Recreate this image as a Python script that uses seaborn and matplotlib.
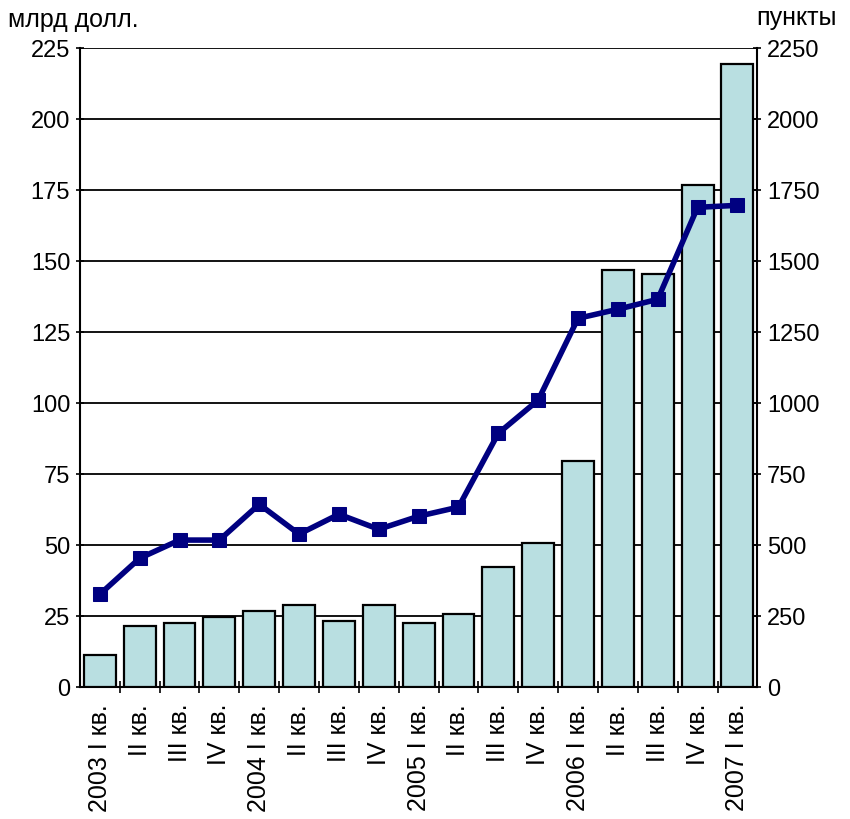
import numpy as np
import matplotlib.pyplot as plt
import seaborn as sns
from matplotlib.ticker import FixedLocator

quarters = ["2003 I кв.", "II кв.", "III кв.", "IV кв.",
            "2004 I кв.", "II кв.", "III кв.", "IV кв.",
            "2005 I кв.", "II кв.", "III кв.", "IV кв.",
            "2006 I кв.", "II кв.", "III кв.", "IV кв.",
            "2007 I кв."]
volume_bn = [11.3, 21.7, 22.6, 24.8, 26.9, 29.0, 23.2, 29.0,
             22.6, 25.8, 42.4, 50.8, 79.8, 147, 145.5, 177, 219.5]
index_pts = [327, 454, 518, 518, 644, 539, 609, 556,
             602, 634, 894, 1011, 1299, 1331, 1366, 1690, 1697]
left_ticks = list(range(0, 226, 25))
right_ticks = list(range(0, 2251, 250))

sns.set_theme(style="white")
plt.rcParams["font.family"] = ["Liberation Sans", "DejaVu Sans"]
plt.rcParams["text.color"] = "black"
plt.rcParams["xtick.color"] = "black"
plt.rcParams["ytick.color"] = "black"

fig = plt.figure(figsize=(8.5, 8.19), dpi=100)
ax = fig.add_axes([0.094, 0.161, 0.797, 0.780])

pos = np.arange(len(quarters))
sns.barplot(x=pos, y=volume_bn, ax=ax, color="#B9DFE1", saturation=1,
            edgecolor="black", linewidth=1.6, width=0.8, zorder=3)
ax.set_ylim(0, 225)
ax.set_xlim(-0.5, len(quarters) - 0.5)
ax.set_yticks(left_ticks)
ax.yaxis.grid(True, color="black", linewidth=1.3, zorder=0)
ax.set_axisbelow(True)
ax.tick_params(axis="y", labelsize=17, length=6, width=1.2, color="black",
               labelcolor="black", direction="inout", left=True, pad=4)
ax.set_xticks(pos)
ax.set_xticklabels(quarters, rotation=90, fontsize=18)
ax.tick_params(axis="x", length=0, pad=12, labelcolor="black")
ax.xaxis.set_minor_locator(FixedLocator(np.arange(0.5, len(quarters) - 0.5, 1)))
ax.tick_params(axis="x", which="minor", bottom=True, length=8, width=1.2,
               color="black", direction="inout")
for s in ["left", "right", "bottom"]:
    ax.spines[s].set_color("black")
    ax.spines[s].set_linewidth(1.5)
ax.spines["top"].set_visible(False)
ax.set_ylabel("")

ax2 = ax.twinx()
sns.lineplot(x=pos, y=index_pts, ax=ax2, color="#000080",
             linewidth=4, marker="s", markersize=10, markeredgecolor="#000080",
             zorder=5)
ax2.set_ylim(0, 2250)
ax2.set_yticks(right_ticks)
ax2.tick_params(axis="y", labelsize=17, length=6, width=1.2, color="black",
                labelcolor="black", direction="inout", right=True, pad=4)
for s in ax2.spines.values():
    s.set_visible(False)
ax2.grid(False)

fig.text(0.01, 0.975, "млрд долл.", fontsize=18, ha="left", va="center")
fig.text(0.985, 0.978, "пункты", fontsize=18, ha="right", va="center")

fig.savefig("out.png", dpi=100)
